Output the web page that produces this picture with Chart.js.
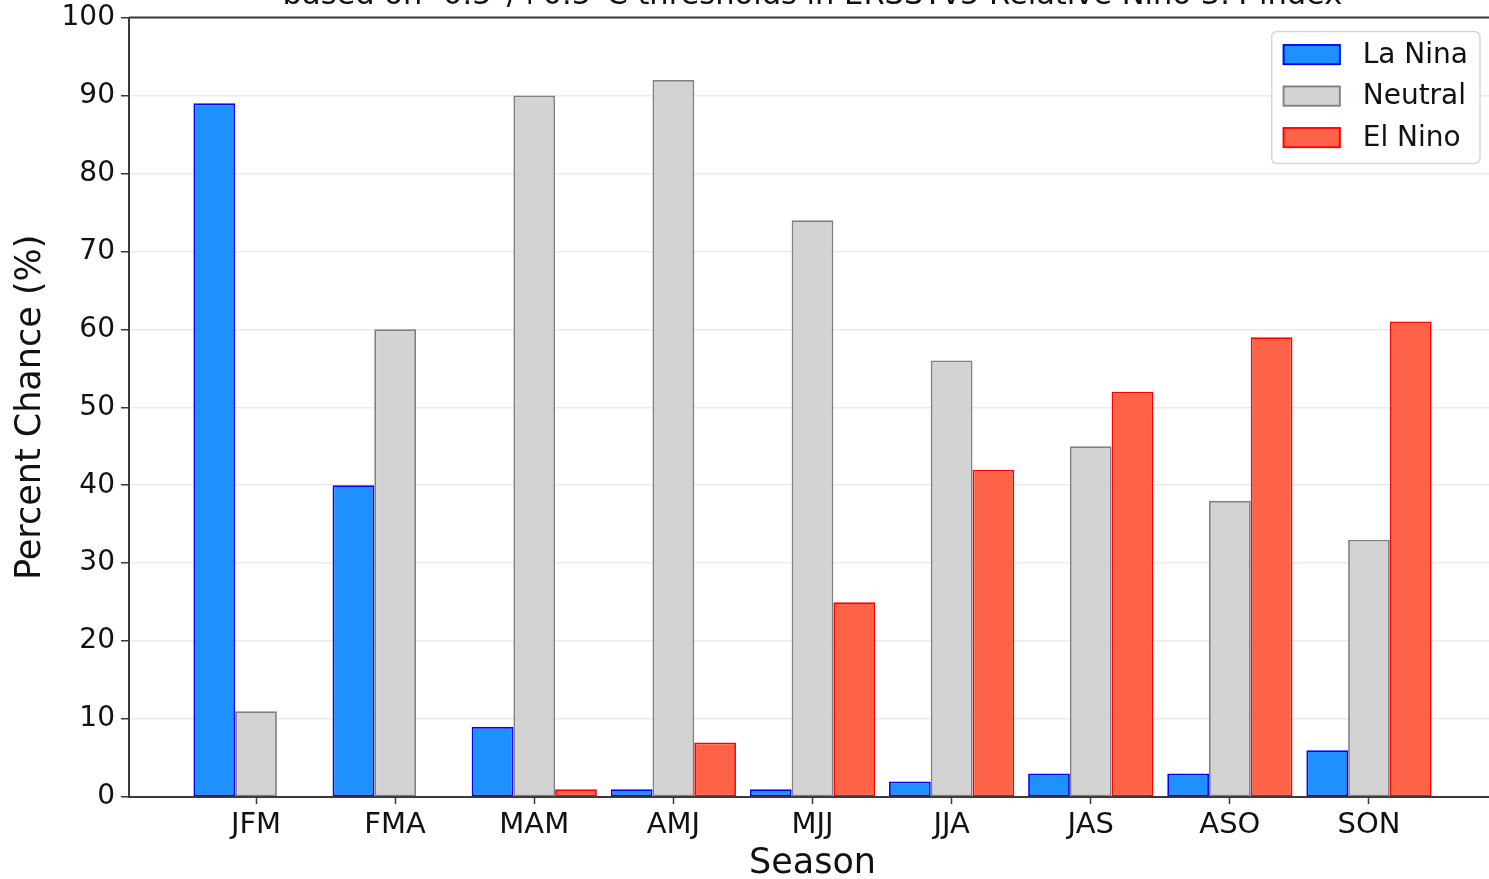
<!DOCTYPE html>
<html>
<head>
<meta charset="utf-8">
<script src="https://cdn.jsdelivr.net/npm/chart.js@4.4.1/dist/chart.umd.min.js"></script>
<style>
  html, body { margin: 0; padding: 0; background: #ffffff; overflow: hidden; width: 1489px; height: 879px; }
  #wrap { position: absolute; left: 0; top: -60px; width: 1500px; height: 945px; }
  canvas { display: block; }
</style>
</head>
<body>
<div id="wrap"><canvas id="c" width="1500" height="945"></canvas></div>
<script>
// ---- data ----
const seasons = ["JFM", "FMA", "MAM", "AMJ", "MJJ", "JJA", "JAS", "ASO", "SON"];
const laNina  = [89, 40, 9, 1, 1, 2, 3, 3, 6];
const neutral = [11, 60, 90, 92, 74, 56, 45, 38, 33];
const elNino  = [0, 0, 1, 7, 25, 42, 52, 59, 61];
const yTicks  = [0, 10, 20, 30, 40, 50, 60, 70, 80, 90, 100];
const titleText = "based on -0.5\u00B0/+0.5\u00B0C thresholds in ERSSTv5 Relative Nino 3.4 index";

const FONT = "'DejaVu Sans', 'Liberation Sans', sans-serif";
const TXT = "#111111";
const SPINE = "#3a3a3a";

const toPoints = arr => arr.map((v, i) => ({ x: i, y: v }));

const spinePlugin = {
  id: 'spines',
  afterDatasetsDraw(chart) {
    const { ctx, chartArea: a } = chart;
    ctx.save();
    ctx.strokeStyle = SPINE;
    ctx.lineWidth = 2;
    ctx.beginPath();
    ctx.moveTo(a.left, a.top);
    ctx.lineTo(a.right, a.top);
    ctx.lineTo(a.right, a.bottom);
    ctx.stroke();
    ctx.restore();
  }
};

const legendPlugin = {
  id: 'boxLegend',
  afterDraw(chart) {
    const { ctx, chartArea: a } = chart;
    const ds = chart.data.datasets;
    ctx.save();
    ctx.font = "28px " + FONT;
    let maxW = 0;
    ds.forEach(d => { maxW = Math.max(maxW, ctx.measureText(d.label).width); });
    const padL = 11, sw = 58, sh = 21, gap = 22, padR = 12, rowH = 41.5, padT = 23;
    const w = padL + sw + gap + maxW + padR;
    const h = 132;
    const x0 = a.right - 16 - w;
    const y0 = a.top + 14;
    const r = 6;
    ctx.beginPath();
    ctx.moveTo(x0 + r, y0);
    ctx.lineTo(x0 + w - r, y0);
    ctx.quadraticCurveTo(x0 + w, y0, x0 + w, y0 + r);
    ctx.lineTo(x0 + w, y0 + h - r);
    ctx.quadraticCurveTo(x0 + w, y0 + h, x0 + w - r, y0 + h);
    ctx.lineTo(x0 + r, y0 + h);
    ctx.quadraticCurveTo(x0, y0 + h, x0, y0 + h - r);
    ctx.lineTo(x0, y0 + r);
    ctx.quadraticCurveTo(x0, y0, x0 + r, y0);
    ctx.closePath();
    ctx.fillStyle = "rgba(255,255,255,0.85)";
    ctx.fill();
    ctx.strokeStyle = "#d6d6d6";
    ctx.lineWidth = 1.5;
    ctx.stroke();
    ds.forEach((d, i) => {
      const cy = y0 + padT + i * rowH;
      ctx.fillStyle = d.backgroundColor;
      ctx.fillRect(x0 + padL, cy - sh / 2, sw, sh);
      ctx.strokeStyle = d.borderColor;
      ctx.lineWidth = 1.8;
      ctx.strokeRect(x0 + padL + 0.9, cy - sh / 2 + 0.9, sw - 1.8, sh - 1.8);
      ctx.fillStyle = TXT;
      ctx.textBaseline = 'middle';
      ctx.textAlign = 'left';
      ctx.fillText(d.label, x0 + padL + sw + gap, cy + 1);
    });
    ctx.restore();
  }
};

new Chart(document.getElementById('c'), {
  type: 'bar',
  data: {
    datasets: [
      { label: 'La Nina', data: toPoints(laNina), backgroundColor: '#1E90FF', borderColor: '#0000FF', borderWidth: 1.8, borderSkipped: false },
      { label: 'Neutral', data: toPoints(neutral), backgroundColor: '#D3D3D3', borderColor: '#808080', borderWidth: 1.8, borderSkipped: false },
      { label: 'El Nino', data: toPoints(elNino), backgroundColor: '#FF6347', borderColor: '#FF0000', borderWidth: 1.8, borderSkipped: false }
    ]
  },
  options: {
    responsive: false,
    animation: false,
    categoryPercentage: 0.9,
    barPercentage: 1.0,
    layout: { padding: { left: 0, right: 4, top: 0, bottom: 0 } },
    plugins: {
      legend: { display: false },
      tooltip: { enabled: false },
      title: {
        display: true,
        fullSize: false,
        text: titleText,
        color: TXT,
        font: { family: FONT, size: 30.5, weight: 'normal', lineHeight: 1.2 },
        padding: { top: 38, bottom: 3 }
      }
    },
    scales: {
      x: {
        type: 'linear',
        offset: false,
        min: -0.913,
        max: 8.913,
        afterFit(s) { s.height = 88; },
        afterBuildTicks(s) { s.ticks = seasons.map((_, i) => ({ value: i })); },
        ticks: {
          callback: v => seasons[v] ?? '',
          color: TXT,
          font: { family: FONT, size: 29 },
          padding: 4,
          maxRotation: 0,
          autoSkip: false
        },
        grid: { offset: false, drawOnChartArea: false, drawTicks: true, tickLength: 7, tickColor: SPINE, tickWidth: 1.5 },
        border: { color: SPINE, width: 2 },
        title: { display: true, text: 'Season', color: TXT, font: { family: FONT, size: 35 }, padding: { top: 0, bottom: 0 } }
      },
      y: {
        min: 0,
        max: 100,
        afterFit(s) { s.width = 129; },
        afterBuildTicks(s) { s.ticks = yTicks.map(v => ({ value: v })); },
        ticks: { color: TXT, font: { family: FONT, size: 28 }, padding: 6 },
        grid: { color: '#ebebeb', lineWidth: 1.5, tickLength: 8, tickColor: SPINE, tickWidth: 1.5 },
        border: { color: SPINE, width: 2 },
        title: { display: true, text: 'Percent Chance (%)', color: TXT, font: { family: FONT, size: 35 }, padding: { top: 10, bottom: 0 } }
      }
    }
  },
  plugins: [spinePlugin, legendPlugin]
});
</script>
</body>
</html>
